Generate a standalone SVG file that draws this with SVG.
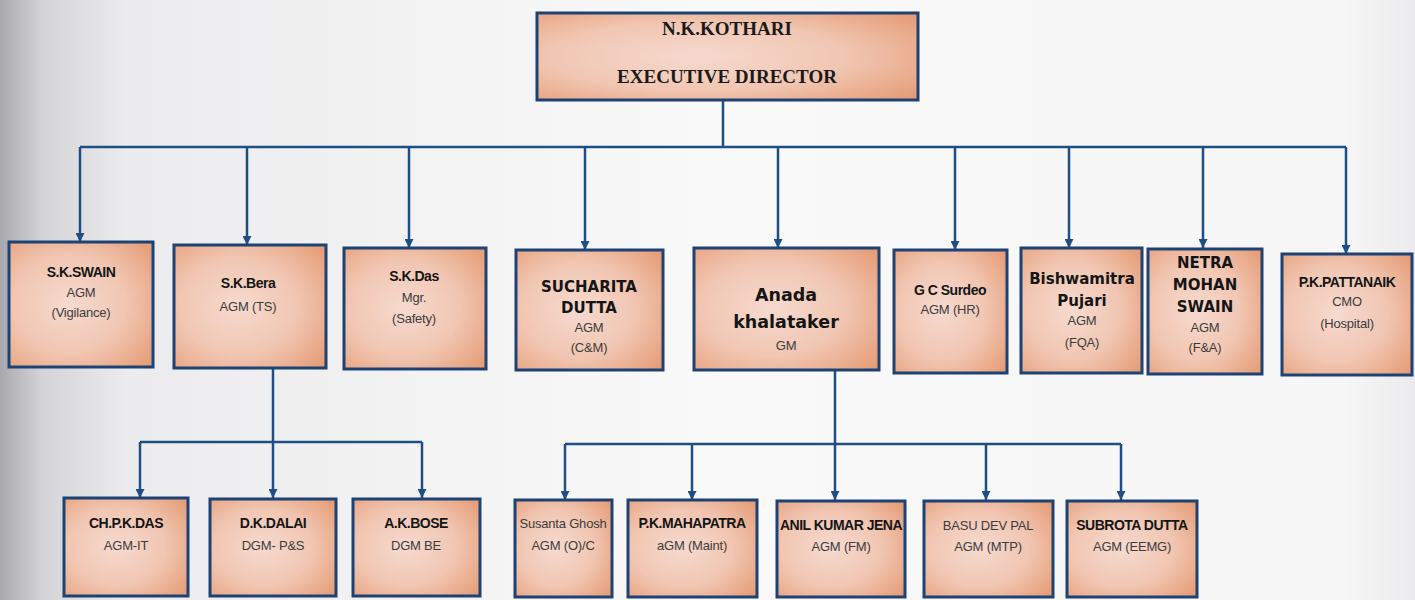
<svg xmlns="http://www.w3.org/2000/svg" width="1415" height="600" viewBox="0 0 1415 600">
<defs>
<linearGradient id="bg" x1="0" y1="0" x2="1" y2="0">
<stop offset="0" stop-color="#a9a9ad"/>
<stop offset="0.03" stop-color="#d4d4d8"/>
<stop offset="0.09" stop-color="#ececee"/>
<stop offset="0.5" stop-color="#f9f9f9"/>
<stop offset="0.95" stop-color="#f6f6f6"/>
<stop offset="1" stop-color="#ebebed"/>
</linearGradient>
<radialGradient id="box" cx="0.42" cy="0.5" r="0.78">
<stop offset="0" stop-color="#f6dacf"/>
<stop offset="0.5" stop-color="#f1c6b2"/>
<stop offset="1" stop-color="#e4976f"/>
</radialGradient>
<marker id="arr" viewBox="0 0 10 10" refX="10" refY="5" markerWidth="9" markerHeight="9" markerUnits="userSpaceOnUse" orient="auto">
<path d="M0,0 L10,5 L0,10 z" fill="#1f4f82"/>
</marker>
</defs>
<style>
.b{fill:url(#box);stroke:#1d4273;stroke-width:3}
.c{fill:none;stroke:#1f4f82;stroke-width:2.5}
.a{marker-end:url(#arr)}
.n{font-family:"Liberation Sans",Arial,sans-serif;font-weight:bold;font-size:14px;letter-spacing:-0.5px;fill:#151515;text-anchor:middle}
.r{font-family:"Liberation Sans",Arial,sans-serif;font-size:13px;letter-spacing:-0.2px;fill:#3c3c3c;text-anchor:middle}
.v{font-family:"DejaVu Sans",Verdana,sans-serif;font-weight:bold;font-size:15px;fill:#151515;text-anchor:middle}
.g{font-family:"DejaVu Sans",Verdana,sans-serif;font-weight:bold;font-size:17.5px;fill:#151515;text-anchor:middle}
.t{font-family:"Liberation Serif","Times New Roman",serif;font-weight:bold;font-size:19px;fill:#1a1a1a;text-anchor:middle}
</style>
<rect x="0" y="0" width="1415" height="600" fill="url(#bg)"/>

<g id="connectors">
<path class="c" d="M723,100 V147"/>
<path class="c" d="M80,147 H1346"/>
<path class="c a" d="M80,147 V242"/>
<path class="c a" d="M247,147 V245"/>
<path class="c a" d="M409,147 V248"/>
<path class="c a" d="M585,147 V250"/>
<path class="c a" d="M778,147 V248"/>
<path class="c a" d="M955,147 V250"/>
<path class="c a" d="M1069,147 V248"/>
<path class="c a" d="M1203,147 V248"/>
<path class="c a" d="M1346,147 V254"/>
<path class="c" d="M273,368 V442 M140,442 H422"/>
<path class="c a" d="M140,442 V498"/>
<path class="c a" d="M273,442 V498"/>
<path class="c a" d="M422,442 V498"/>
<path class="c" d="M835,370 V444 M565,444 H1121"/>
<path class="c a" d="M565,444 V500"/>
<path class="c a" d="M692,444 V500"/>
<path class="c a" d="M835,444 V500"/>
<path class="c a" d="M986,444 V500"/>
<path class="c a" d="M1121,444 V500"/>
</g>

<g id="ed">
<rect class="b" x="537" y="13" width="381" height="87"/>
<text class="t" x="727" y="35">N.K.KOTHARI</text>
<text class="t" x="727" y="83">EXECUTIVE DIRECTOR</text>
</g>

<g id="swain">
<rect class="b" x="9" y="242" width="144" height="125"/>
<text class="n" x="81" y="277">S.K.SWAIN</text>
<text class="r" x="81" y="297">AGM</text>
<text class="r" x="81" y="317">(Vigilance)</text>
</g>
<g id="bera">
<rect class="b" x="174" y="245" width="152" height="123"/>
<text class="n" x="248" y="288">S.K.Bera</text>
<text class="r" x="248" y="311">AGM (TS)</text>
</g>
<g id="das">
<rect class="b" x="344" y="248" width="142" height="121"/>
<text class="n" x="414" y="281">S.K.Das</text>
<text class="r" x="414" y="302">Mgr.</text>
<text class="r" x="414" y="323">(Safety)</text>
</g>
<g id="sucharita">
<rect class="b" x="516" y="250" width="147" height="120"/>
<text class="v" x="589" y="292">SUCHARITA</text>
<text class="v" x="589" y="313">DUTTA</text>
<text class="r" x="589" y="332">AGM</text>
<text class="r" x="589" y="352">(C&amp;M)</text>
</g>
<g id="anada">
<rect class="b" x="694" y="248" width="185" height="122"/>
<text class="g" x="786" y="301">Anada</text>
<text class="g" x="786" y="328">khalataker</text>
<text class="r" x="786" y="350">GM</text>
</g>
<g id="surdeo">
<rect class="b" x="894" y="250" width="113" height="123"/>
<text class="n" x="950" y="295">G C Surdeo</text>
<text class="r" x="950" y="314">AGM (HR)</text>
</g>
<g id="pujari">
<rect class="b" x="1021" y="248" width="121" height="125"/>
<text class="v" x="1082" y="284">Bishwamitra</text>
<text class="v" x="1082" y="306">Pujari</text>
<text class="r" x="1082" y="325">AGM</text>
<text class="r" x="1082" y="347">(FQA)</text>
</g>
<g id="netra">
<rect class="b" x="1148" y="249" width="114" height="125"/>
<text class="v" x="1205" y="268">NETRA</text>
<text class="v" x="1205" y="290">MOHAN</text>
<text class="v" x="1205" y="312">SWAIN</text>
<text class="r" x="1205" y="332">AGM</text>
<text class="r" x="1205" y="352">(F&amp;A)</text>
</g>
<g id="pattanaik">
<rect class="b" x="1282" y="254" width="130" height="121"/>
<text class="n" x="1347" y="287">P.K.PATTANAIK</text>
<text class="r" x="1347" y="306">CMO</text>
<text class="r" x="1347" y="328">(Hospital)</text>
</g>

<g id="chpkdas">
<rect class="b" x="64" y="498" width="124" height="98"/>
<text class="n" x="126" y="528">CH.P.K.DAS</text>
<text class="r" x="126" y="550">AGM-IT</text>
</g>
<g id="dalai">
<rect class="b" x="210" y="499" width="126" height="97"/>
<text class="n" x="273" y="528">D.K.DALAI</text>
<text class="r" x="273" y="550">DGM- P&amp;S</text>
</g>
<g id="bose">
<rect class="b" x="353" y="499" width="127" height="97"/>
<text class="n" x="416" y="528">A.K.BOSE</text>
<text class="r" x="416" y="550">DGM BE</text>
</g>
<g id="susanta">
<rect class="b" x="515" y="500" width="97" height="97"/>
<text class="r" x="563" y="528">Susanta Ghosh</text>
<text class="r" x="563" y="550">AGM (O)/C</text>
</g>
<g id="mahapatra">
<rect class="b" x="628" y="500" width="129" height="97"/>
<text class="n" x="692" y="528">P.K.MAHAPATRA</text>
<text class="r" x="692" y="550">aGM (Maint)</text>
</g>
<g id="anil">
<rect class="b" x="777" y="501" width="128" height="96"/>
<text class="n" x="841" y="530">ANIL KUMAR JENA</text>
<text class="r" x="841" y="551">AGM (FM)</text>
</g>
<g id="basu">
<rect class="b" x="924" y="501" width="129" height="96"/>
<text class="r" x="988" y="530">BASU DEV PAL</text>
<text class="r" x="988" y="551">AGM (MTP)</text>
</g>
<g id="subrota">
<rect class="b" x="1067" y="501" width="130" height="96"/>
<text class="n" x="1132" y="530">SUBROTA DUTTA</text>
<text class="r" x="1132" y="551">AGM (EEMG)</text>
</g>
</svg>
